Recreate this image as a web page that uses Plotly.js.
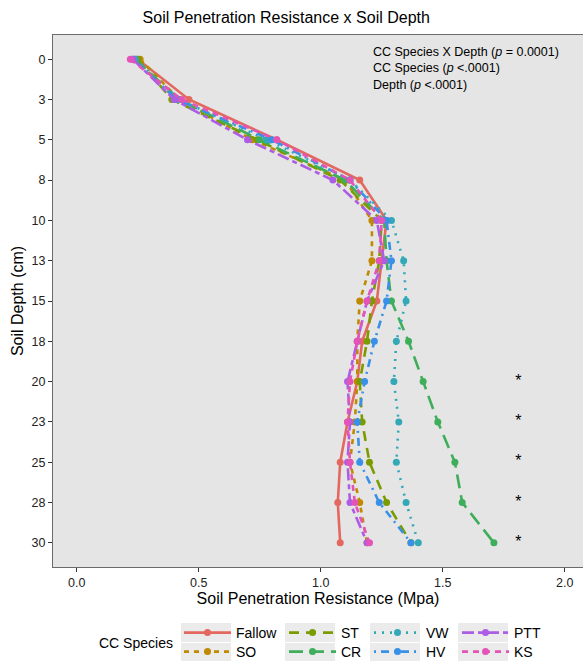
<!DOCTYPE html>
<html>
<head>
<meta charset="utf-8">
<script src="https://cdn.plot.ly/plotly-3.0.1.min.js"></script>
<style>html,body{margin:0;padding:0;background:#fff;}#chart{width:583px;height:661px;}</style>
</head>
<body>
<div id="chart"></div>
<script>
const depths = ["0","3","5","8","10","13","15","18","20","23","25","28","30"];
const species = ["Fallow","SO","ST","CR","VW","HV","PTT","KS"];
const fallow = [0.25,0.46,0.82,1.16,1.27,1.25,1.23,1.17,1.15,1.11,1.08,1.07,1.08];
const so     = [0.26,0.42,0.72,1.10,1.21,1.21,1.16,1.15,1.15,1.14,1.12,1.16,1.19];
const st     = [0.25,0.39,0.74,1.08,1.25,1.24,1.21,1.19,1.16,1.17,1.20,1.27,1.37];
const cr     = [0.24,0.42,0.75,1.10,1.26,1.27,1.29,1.36,1.42,1.48,1.55,1.58,1.71];
const vw     = [0.24,0.42,0.78,1.12,1.29,1.34,1.35,1.31,1.30,1.32,1.31,1.35,1.40];
const hv     = [0.23,0.41,0.80,1.12,1.27,1.29,1.27,1.22,1.18,1.15,1.16,1.24,1.37];
const ptt    = [0.23,0.40,0.70,1.05,1.23,1.26,1.19,1.15,1.11,1.12,1.11,1.12,1.19];
const ks     = [0.22,0.43,0.82,1.12,1.25,1.24,1.19,1.15,1.12,1.11,1.12,1.14,1.20];
const sigDepths = ["20","23","25","28","30"];
const sigX = [1.81,1.81,1.81,1.81,1.81];
const sigMark = ["*","*","*","*","*"];

const values = [fallow, so, st, cr, vw, hv, ptt, ks];
const colors = ['#E3685F','#BF8A00','#7B9C00','#3FAE5A','#33A9B8','#3990E8','#AD5CE6','#E454B8'];
const dashes = ['solid','5px,5px','10px,7px','14px,7px','2px,6px','2px,5px,8px,5px','12px,4px,5px,4px','6px,5px'];

// plot-area pixel geometry helpers (styling only)
const L=53, R=583, T=35, B=567;
const px = v => (v-L)/(R-L);
const py = v => (B-v)/(B-T);

// legend grid: column-major, 2 rows x 4 columns
const colX = [179, 284, 369, 457];
const rowY = [633, 652];

const traces = species.map((s,i)=>({
  type:'scatter', mode:'lines+markers', name:s,
  x: values[i], y: depths,
  line:{color:colors[i], width:2.6, dash:dashes[i]},
  marker:{color:colors[i], size:7},
  legend: i===0 ? 'legend' : 'legend'+(i+1)
}));
traces.push({
  type:'scatter', mode:'text', x:sigX, y:sigDepths, text:sigMark,
  textfont:{size:16, color:'#000', family:'Liberation Sans, Arial, sans-serif'},
  showlegend:false, hoverinfo:'skip'
});

const keyBoxes = [];
[181, 285, 370, 458].forEach(x0=>{
  [[623,642],[643,661]].forEach(r=>{
    keyBoxes.push({type:'rect', xref:'paper', yref:'paper', x0:px(x0), x1:px(x0+50), y0:py(r[1]), y1:py(r[0]),
      fillcolor:'#EBEBEB', line:{width:0}, layer:'below'});
  });
});

const layout = {
  width:583, height:661,
  margin:{l:L, r:583-R, t:T, b:661-B, autoexpand:false},
  paper_bgcolor:'#ffffff', plot_bgcolor:'#E5E5E5',
  font:{family:'Liberation Sans, Arial, sans-serif', color:'#000'},
  title:{text:'Soil Penetration Resistance x Soil Depth', x:0.491, xref:'container', xanchor:'center', y:0.973, yref:'container', yanchor:'middle', font:{size:16, color:'#000'}},
  xaxis:{range:[-0.097,2.075], tickvals:[0,0.5,1,1.5,2], ticktext:['0.0','0.5','1.0','1.5','2.0'],
    showgrid:false, zeroline:false, showline:true, mirror:true, linecolor:'#6b6b6b', linewidth:1,
    ticks:'outside', ticklen:4, tickcolor:'#333', tickfont:{size:12.5, color:'#222'},
    title:{text:'Soil Penetration Resistance (Mpa)', font:{size:16, color:'#000'}, standoff:2}},
  yaxis:{type:'category', categoryorder:'array', categoryarray:depths, range:[12.6,-0.6],
    showgrid:false, zeroline:false, showline:true, mirror:true, linecolor:'#6b6b6b', linewidth:1,
    ticks:'outside', ticklen:4, tickcolor:'#333', tickfont:{size:12.5, color:'#222'},
    title:{text:'Soil Depth (cm)', font:{size:16, color:'#000'}, standoff:3}},
  shapes: keyBoxes,
  annotations:[{xref:'paper', yref:'paper', x:0.6, y:0.985, xanchor:'left', yanchor:'top', align:'left', showarrow:false,
    text:'CC Species X Depth (<i>p</i> = 0.0001)<br>CC Species (<i>p</i> <.0001)<br>Depth (<i>p</i> <.0001)',
    font:{size:12.5, color:'#000'}},
    {xref:'paper', yref:'paper', x:px(97), y:py(643), xanchor:'left', yanchor:'middle', showarrow:false,
    text:'CC Species', font:{size:14, color:'#000'}}]
};
species.forEach((s,i)=>{
  const key = i===0 ? 'legend' : 'legend'+(i+1);
  layout[key] = {orientation:'v', xanchor:'left', yanchor:'middle',
    x:px(colX[Math.floor(i/2)]), y:py(rowY[i%2]),
    itemwidth:47, font:{size:14, color:'#000'}, bgcolor:'rgba(0,0,0,0)'};
});
Plotly.newPlot('chart', traces, layout, {displayModeBar:false, staticPlot:true});
</script>
</body>
</html>
